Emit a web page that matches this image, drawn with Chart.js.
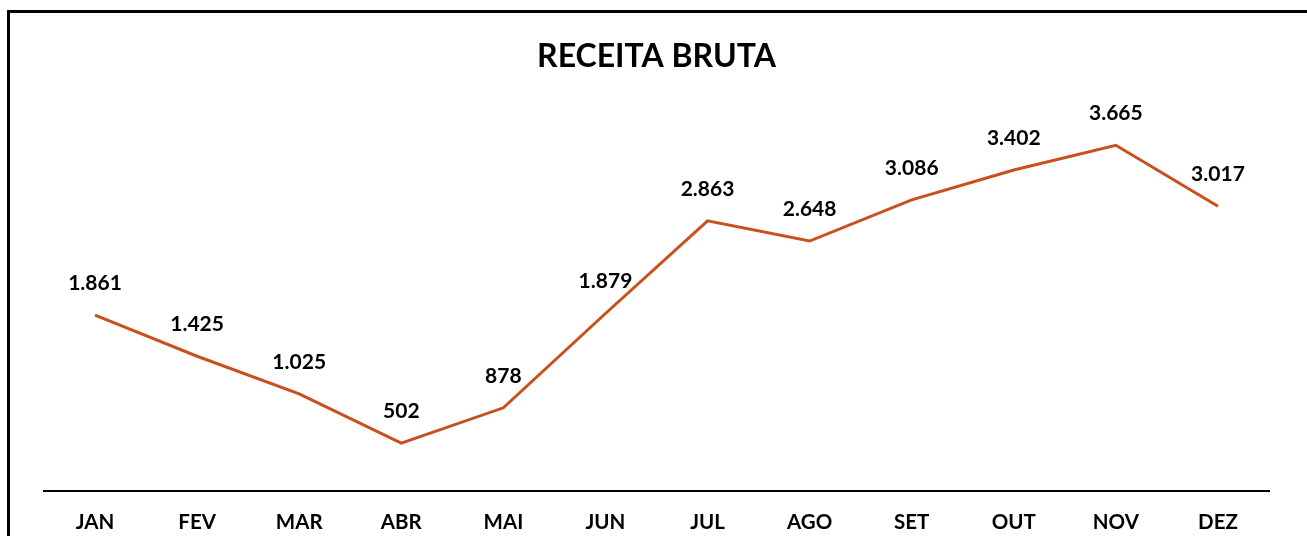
<!DOCTYPE html>
<html>
<head>
<meta charset="utf-8">
<script src="https://cdn.jsdelivr.net/npm/chart.js@4/dist/chart.umd.min.js"></script>
<style>
  html, body { margin: 0; padding: 0; background: #fff; }
  #frame { position: absolute; left: 7px; top: 10px; width: 1400px; height: 600px;
           border-left: 3px solid #000; border-top: 3px solid #000; box-sizing: border-box; }
  #wrap { position: absolute; left: 0; top: 0; width: 1307px; height: 536px; }
</style>
</head>
<body>
<div id="frame"></div>
<div id="wrap"><canvas id="c" width="1307" height="536"></canvas></div>
<script>
const months = ['JAN','FEV','MAR','ABR','MAI','JUN','JUL','AGO','SET','OUT','NOV','DEZ'];
const receita = [1861, 1425, 1025, 502, 878, 1879, 2863, 2648, 3086, 3402, 3665, 3017];
const chartTitle = 'RECEITA BRUTA';

const fmt = v => v.toLocaleString('pt-BR');
const FONT = 'Lato, "Liberation Sans", sans-serif';

const labelPlugin = {
  id: 'pointLabels',
  afterDatasetsDraw(chart) {
    const ctx = chart.ctx;
    const meta = chart.getDatasetMeta(0);
    ctx.save();
    ctx.font = 'bold 21px ' + FONT;
    ctx.fillStyle = '#000';
    ctx.textAlign = 'center';
    ctx.textBaseline = 'middle';
    meta.data.forEach((pt, i) => {
      ctx.fillText(fmt(receita[i]), pt.x, pt.y - 32);
    });
    ctx.restore();
  }
};

new Chart(document.getElementById('c'), {
  type: 'line',
  data: {
    labels: months,
    datasets: [{
      data: receita,
      borderColor: '#C9501C',
      borderWidth: 3,
      pointRadius: 0,
      tension: 0,
      fill: false
    }]
  },
  options: {
    responsive: false,
    animation: false,
    layout: { padding: { left: 44, right: 38, top: 0, bottom: 0 } },
    plugins: {
      legend: { display: false },
      tooltip: { enabled: false },
      title: {
        display: true,
        text: chartTitle,
        color: '#000',
        font: { family: FONT, size: 32, weight: 'bold', lineHeight: 1.2 },
        padding: { top: 37.8, bottom: 37.5 }
      }
    },
    scales: {
      x: {
        offset: true,
        grid: { display: false, drawTicks: false },
        border: { display: true, color: '#000', width: 2 },
        ticks: { color: '#000', font: { family: FONT, size: 20.5, weight: 'bold' }, padding: 20, maxRotation: 0 },
        afterFit(scale) { scale.height = 45.5; }
      },
      y: {
        display: false,
        min: 0,
        max: 4000
      }
    }
  },
  plugins: [labelPlugin]
});
</script>
</body>
</html>
